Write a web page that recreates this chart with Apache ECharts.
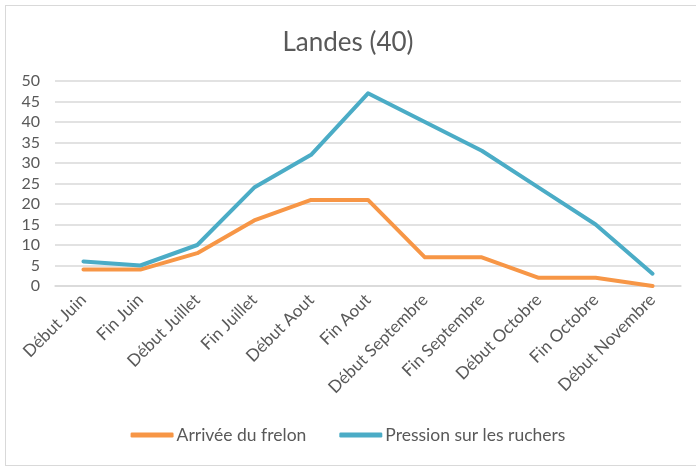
<!DOCTYPE html>
<html>
<head>
<meta charset="utf-8">
<script src="https://cdn.jsdelivr.net/npm/echarts@6/dist/echarts.min.js"></script>
<style>
  html, body { margin: 0; padding: 0; background: #fff; }
  #frame { position: absolute; left: 5px; top: 5px; width: 700px; height: 461px;
           border: 1.5px solid #d9d9d9; box-sizing: border-box; }
  #chart { position: absolute; left: 0; top: 0; width: 696px; height: 470px; }
</style>
</head>
<body>
<div id="frame"></div>
<div id="chart"></div>
<script>
// périodes
var categories = ['Début Juin', 'Fin Juin', 'Début Juillet', 'Fin Juillet', 'Début Aout', 'Fin Aout',
                  'Début Septembre', 'Fin Septembre', 'Début Octobre', 'Fin Octobre', 'Début Novembre'];
var arrivee = [4, 4, 8, 16, 21, 21, 7, 7, 2, 2, 0];
var pression = [6, 5, 10, 24, 32, 47, 40, 33, 24, 15, 3];
var yTicks = [0, 5, 10, 15, 20, 25, 30, 35, 40, 45, 50];

var font = 'Lato, "Open Sans", sans-serif';
var myChart = echarts.init(document.getElementById('chart'));

var option = {
    animation: false,
    title: {
        text: 'Landes (40)',
        left: 'center',
        top: 25,
        textStyle: { fontFamily: font, fontSize: 26, fontWeight: 'normal', color: '#595959' }
    },
    legend: {
        bottom: 21,
        left: 'center',
        itemWidth: 43,
        itemHeight: 5,
        itemGap: 33,
        icon: 'roundRect',
        textStyle: { fontFamily: font, fontSize: 17.5, color: '#595959', padding: [0, 0, 0, -2] },
        data: ['Arrivée du frelon', 'Pression sur les ruchers']
    },
    grid: { left: 55, right: 15, top: 81, height: 205 },
    xAxis: {
        type: 'category',
        data: categories,
        boundaryGap: true,
        axisLine: { lineStyle: { color: '#d9d9d9', width: 1.5 } },
        axisTick: { show: false },
        axisLabel: { rotate: 45, fontFamily: font, fontSize: 17, color: '#595959', margin: 11, interval: 0 }
    },
    yAxis: {
        type: 'value',
        min: yTicks[0],
        max: yTicks[yTicks.length - 1],
        interval: 5,
        axisLine: { show: false },
        axisTick: { show: false },
        axisLabel: { fontFamily: font, fontSize: 16, color: '#595959', margin: 15 },
        splitLine: { lineStyle: { color: '#d9d9d9', width: 1.5 } }
    },
    series: [
        {
            name: 'Arrivée du frelon',
            type: 'line',
            data: arrivee,
            symbol: 'none',
            lineStyle: { width: 4, color: '#f79646', cap: 'round', join: 'round' },
            itemStyle: { color: '#f79646' }
        },
        {
            name: 'Pression sur les ruchers',
            type: 'line',
            data: pression,
            symbol: 'none',
            lineStyle: { width: 4, color: '#4bacc6', cap: 'round', join: 'round' },
            itemStyle: { color: '#4bacc6' }
        }
    ]
};

myChart.setOption(option, true);
</script>
</body>
</html>
